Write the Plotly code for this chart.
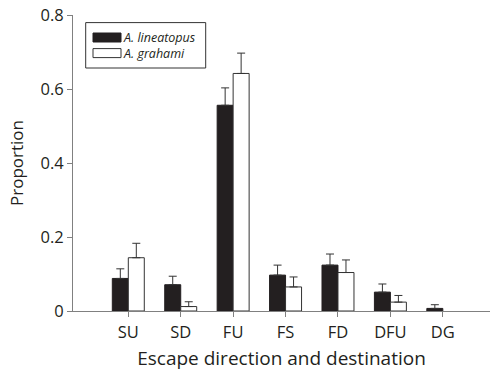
import plotly.graph_objects as go

categories = ["SU", "SD", "FU", "FS", "FD", "DFU", "DG"]
lineatopus = [0.088, 0.071, 0.556, 0.097, 0.124, 0.051, 0.007]
lineatopus_err = [0.026, 0.023, 0.047, 0.027, 0.030, 0.022, 0.010]
grahami = [0.144, 0.012, 0.642, 0.065, 0.104, 0.024, None]
grahami_err = [0.039, 0.013, 0.055, 0.027, 0.034, 0.018, None]
y_ticks = [0, 0.2, 0.4, 0.6, 0.8]
y_ticklabels = ["0", "0.2", "0.4", "0.6", "0.8"]
legend_names = ["A. lineatopus", "A. grahami"]

FONT = "Open Sans"
DARK = "#231f20"
GRAY = "#808080"

xpos = list(range(len(categories)))

fig = go.Figure()
fig.add_trace(go.Bar(
    x=xpos, y=lineatopus, name=legend_names[0],
    marker=dict(color=DARK, line=dict(color=DARK, width=1)),
    error_y=dict(type="data", array=lineatopus_err, arrayminus=[0] * 7,
                 symmetric=False, color="#333333", thickness=1, width=4),
    showlegend=False,
))
fig.add_trace(go.Bar(
    x=xpos, y=grahami, name=legend_names[1],
    marker=dict(color="white", line=dict(color="#333333", width=1)),
    error_y=dict(type="data", array=grahami_err, arrayminus=[0] * 7,
                 symmetric=False, color="#333333", thickness=1, width=4),
    showlegend=False,
))

fig.update_layout(
    width=492, height=377,
    margin=dict(l=73, r=2, t=15, b=66),
    paper_bgcolor="white", plot_bgcolor="white",
    barmode="group", bargap=0.39, bargroupgap=0,
    font=dict(family=FONT, size=17, color=DARK),
    xaxis=dict(
        range=[-1.055, 6.9], tickmode="array", tickvals=xpos, ticktext=categories,
        showline=True, linecolor=GRAY, linewidth=1, ticks="outside", ticklen=5,
        tickcolor=GRAY, showgrid=False, zeroline=False, automargin=False,
        ticklabelstandoff=1, ticklabeloverflow="allow",
        title=dict(text="Escape direction and destination", font=dict(size=19), standoff=9),
        tickfont=dict(size=16.5),
    ),
    yaxis=dict(
        range=[0, 0.8], tickmode="array", tickvals=y_ticks, ticktext=y_ticklabels,
        showline=True, linecolor=GRAY, linewidth=1, ticks="outside", ticklen=5,
        tickcolor=GRAY, showgrid=False, zeroline=False, automargin=False,
        ticklabeloverflow="allow",
        title=dict(text="Proportion", font=dict(size=17), standoff=12),
        tickfont=dict(size=16.5),
    ),
)

# custom legend (positions given in page pixels, converted to paper units)
def px_x(px):
    return (px - 73) / 417

def px_y(py):
    return (310.7 - py) / 296

fig.add_shape(type="rect", xref="paper", yref="paper",
              x0=px_x(85.7), x1=px_x(205.7), y0=px_y(67.7), y1=px_y(22.3),
              line=dict(color="#333333", width=1), fillcolor="white")
fig.add_shape(type="rect", xref="paper", yref="paper",
              x0=px_x(93), x1=px_x(121), y0=px_y(41.7), y1=px_y(32.7),
              line=dict(color=DARK, width=1), fillcolor=DARK)
fig.add_shape(type="rect", xref="paper", yref="paper",
              x0=px_x(93), x1=px_x(121), y0=px_y(57.3), y1=px_y(48.3),
              line=dict(color="#333333", width=1), fillcolor="white")
fig.add_annotation(xref="paper", yref="paper", x=px_x(122), y=px_y(45.3),
                   text="<br>".join("<i>%s</i>" % n for n in legend_names),
                   showarrow=False, xanchor="left", yanchor="middle", align="left",
                   borderpad=0,
                   font=dict(family=FONT, size=12.5, color=DARK))

fig.write_html("out.html", config={"displayModeBar": False},
               post_script="document.body.style.margin='0';")
